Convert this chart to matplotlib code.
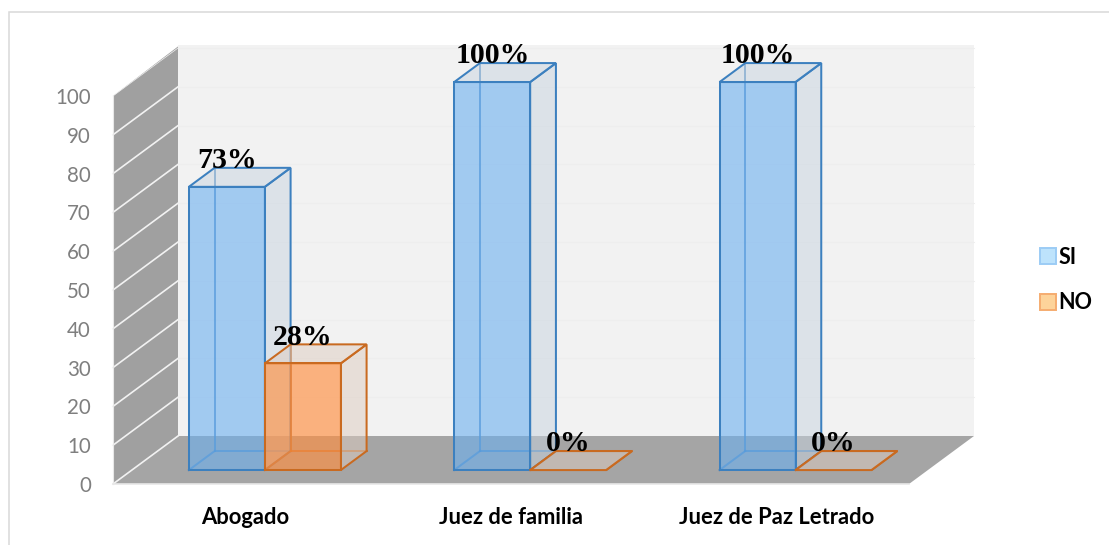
import matplotlib
matplotlib.use('Agg')
import matplotlib.pyplot as plt
from matplotlib.patches import Polygon, Patch, Rectangle

categories = ['Abogado', 'Juez de familia', 'Juez de Paz Letrado']
si_values = [73, 100, 100]
no_values = [27.5, 0, 0]
si_labels = ['73%', '100%', '100%']
no_labels = ['28%', '0%', '0%']
yticks = list(range(0, 101, 10))

W, H = 1109, 545
# depth of the floor, in axis units
DX = 65 / (796 / 3)
DY = 48 / 3.88
BAR_W = 76 / (796 / 3)
GAP = 57 / (796 / 3)
D_FRONT = 0.29
D_BAR = 0.396

fig = plt.figure(figsize=(W / 100, H / 100), dpi=100)
fig.patch.set_facecolor('white')
ax = fig.add_axes([113 / W, 1 - 484 / H, 796 / W, 388 / H])
ax.set_xlim(0, 3)
ax.set_ylim(0, 100)
for s in ax.spines.values():
    s.set_visible(False)
ax.patch.set_visible(False)

# chart frame
fig.add_artist(Rectangle((8.5 / W, -0.01), 1.2, 1 - 11.5 / H + 0.01, transform=fig.transFigure,
                         fill=False, ec='#d9d9d9', lw=1.1))


def poly(pts, **kw):
    ax.add_patch(Polygon(pts, closed=True, clip_on=False, **kw))


# walls and floor
poly([(0, 100), (DX, 100 + DY + 0.4), (DX, DY), (0, 0)], fc='#a0a0a0', ec='none', zorder=1)
poly([(DX, DY), (3 + DX, DY), (3 + DX, 100 + DY + 0.8), (DX, 100 + DY + 0.8)], fc='#f2f2f2', ec='none', zorder=1)
poly([(0, 0), (3, 0), (3 + DX, DY), (DX, DY)], fc='#a5a5a5', ec='none', zorder=1)

for v in yticks:
    ax.plot([0, DX], [v, v + DY], color='#f2f2f2', lw=1.2 if v < 100 else 0.5, clip_on=False, zorder=2)
    if v > 0:
        ax.plot([DX, 3 + DX], [v + DY, v + DY], color='#eeeeee', lw=0.8, clip_on=False, zorder=2)
ax.plot([0, 3], [0, 0], color='#e8e8e8', lw=1.2, clip_on=False, zorder=2)
ax.plot([0, 0], [0, 100], color='#e8e8e8', lw=0.8, clip_on=False, zorder=2)


def bar3d(x, v, front, side, edge, z):
    x0 = x + D_FRONT * DX
    y0 = D_FRONT * DY
    ddx, ddy = D_BAR * DX, D_BAR * DY
    x1 = x0 + BAR_W
    y1 = y0 + v
    lw = 1.45
    # back edges first
    ax.plot([x0 + ddx, x0 + ddx], [y0 + ddy, y1 + ddy], color=edge, lw=lw, alpha=0.75, clip_on=False, zorder=z)
    ax.plot([x0 + ddx, x1 + ddx], [y0 + ddy, y0 + ddy], color=edge, lw=lw, alpha=0.75, clip_on=False, zorder=z)
    ax.plot([x0, x0 + ddx], [y0, y0 + ddy], color=edge, lw=lw, alpha=0.75, clip_on=False, zorder=z)
    poly([(x1, y0), (x1 + ddx, y0 + ddy), (x1 + ddx, y1 + ddy), (x1, y1)],
         fc=side, ec=edge, lw=lw, zorder=z + 0.1)
    poly([(x0, y1), (x1, y1), (x1 + ddx, y1 + ddy), (x0 + ddx, y1 + ddy)],
         fc=side, ec=edge, lw=lw, zorder=z + 0.1)
    if v > 0:
        poly([(x0, y0), (x1, y0), (x1, y1), (x0, y1)], fc=front, ec=edge, lw=lw, zorder=z + 0.2)


blue_front = (108 / 255, 176 / 255, 240 / 255, 0.6)
blue_side = (200 / 255, 212 / 255, 224 / 255, 0.5)
orange_front = (1, 143 / 255, 64 / 255, 0.65)
orange_side = (222 / 255, 204 / 255, 192 / 255, 0.5)

for i in range(len(categories)):
    x_si = i + GAP
    x_no = i + GAP + BAR_W
    bar3d(x_si, si_values[i], blue_front, blue_side, '#3c80bf', 3)
    bar3d(x_no, no_values[i], orange_front, orange_side, '#c96a20', 4)
    for x, v, lab in [(x_si, si_values[i], si_labels[i]), (x_no, no_values[i], no_labels[i])]:
        ax.text(x + (19 + 38) / (796 / 3), v + (D_FRONT + D_BAR) * DY - 0.1, lab, ha='center', va='baseline',
                fontsize=21.5, fontweight='bold', family='Liberation Serif', color='black',
                clip_on=False, zorder=10)

ax.set_yticks(yticks)
ax.set_xticks([0.5, 1.5, 2.5])
ax.set_xticklabels(categories, fontsize=15.8, fontweight='bold', family='Lato', color='black')
ax.set_yticklabels([str(v) for v in yticks], fontsize=14.8, family='Lato', color='#7f7f7f')
ax.tick_params(axis='x', length=0, pad=16.8)
ax.tick_params(axis='y', length=0, pad=16)

handles = [Patch(fc='#bde3fc', ec='#9cccf5', lw=1.4, label='SI'),
           Patch(fc='#fdd39a', ec='#f5ac70', lw=1.4, label='NO')]
fig.legend(handles=handles, loc='center left', bbox_to_anchor=(1040 / W, 1 - 280 / H),
           frameon=False, handlelength=0.75, handleheight=0.75, handletextpad=0.1,
           labelspacing=1.16, borderpad=0, borderaxespad=0,
           prop={'family': 'Lato', 'weight': 'bold', 'size': 15.5})

fig.savefig('out.png', dpi=100)
